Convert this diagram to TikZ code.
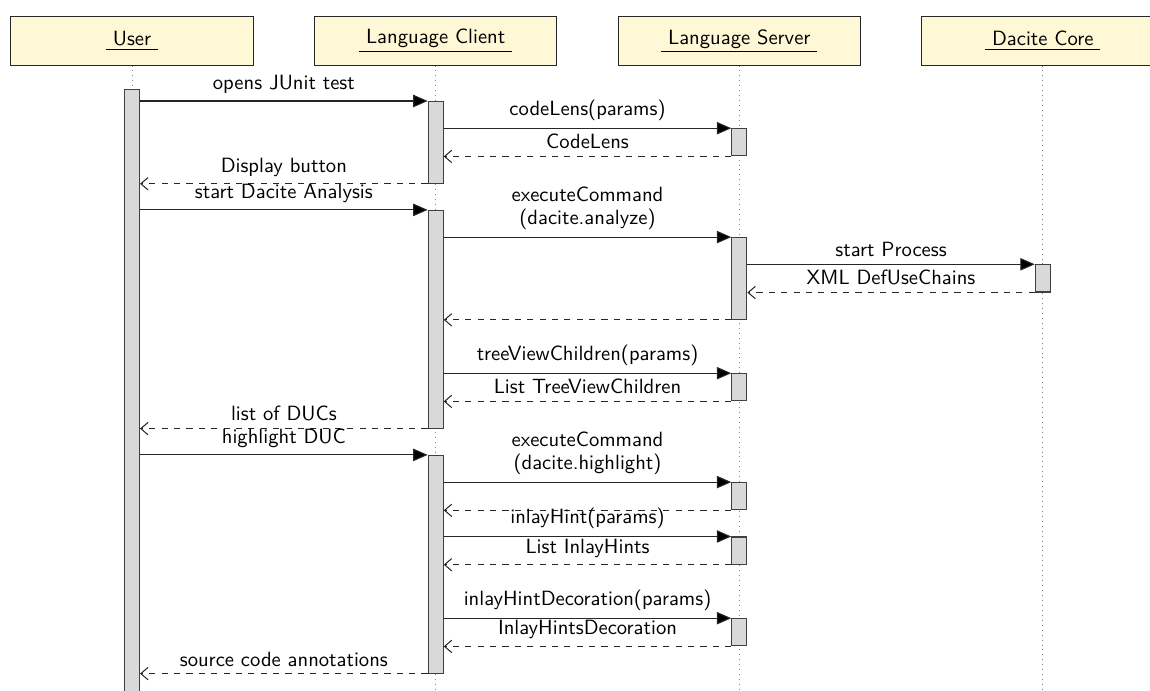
\documentclass[tikz,border=0pt]{standalone}
\usepackage[dvipsnames]{xcolor}
\usepackage{tikz}
\usetikzlibrary{arrows.meta}
\definecolor{headyellow}{RGB}{255,248,214}
\tikzset{
  head/.style={draw=black!85, fill=headyellow, line width=0.5pt,
    minimum width=117.4pt, minimum height=23.4pt},
  life/.style={gray, dotted},
  bar/.style={draw=black!75, fill=gray!30, anchor=north, inner sep=0pt, line width=0.5pt,
    minimum width=7.3pt, minimum height=#1*0.485pt},
  call/.style={black!85, line width=0.5pt, -{Triangle[length=7pt, width=6pt, fill=black]}},
  reply/.style={black!85, line width=0.5pt, dashed, -{Straight Barb[length=3.5pt, width=6pt]}},
  msg/.style={midway, above, text=black}
}

\begin{document}
\begin{tikzpicture}[x=0.485pt, y=-0.485pt, font=\sffamily]
  \useasboundingbox (0, 0) rectangle (1150, 691);
  \clip (0, 0) rectangle (1150, 691);

  % the four participants
  \node[head] (user) at (132, 40.9) {\underline{\ User\ }};
  \node[head] (client) at (435.7, 40.9) {\underline{\ Language Client\ }};
  \node[head] (server) at (739.3, 40.9) {\underline{\ Language Server\ }};
  \node[head] (core) at (1042.8, 40.9) {\underline{\ Dacite Core\ }};
  \coordinate (bottom) at (0, 700);
  \draw[life] (user.south) -- (user.south |- bottom);
  \draw[life] (client.south) -- (client.south |- bottom);
  \draw[life] (server.south) -- (server.south |- bottom);
  \draw[life] (core.south) -- (core.south |- bottom);

  % activations
  \node[bar=611] (u) at (132, 89) {};
  \node[bar=81.7] (lc1) at (435.7, 101) {};
  \node[bar=217.7] (lc2) at (435.7, 209.9) {};
  \node[bar=217.7] (lc3) at (435.7, 454.9) {};
  \node[bar=27.2] (ls1) at (739.3, 128.2) {};
  \node[bar=81.7] (ls2) at (739.3, 237.1) {};
  \node[bar=27.2] (ls3) at (739.3, 373.2) {};
  \node[bar=27.2] (ls4) at (739.3, 482.1) {};
  \node[bar=27.2] (ls5) at (739.3, 536.5) {};
  \node[bar=27.2] (ls6) at (739.3, 618.2) {};
  \node[bar=27.2] (dc1) at (1042.8, 264.3) {};

  % messages
  \draw[call] (u.east |- lc1.north) -- (lc1.north west) node[msg] {opens JUnit test};
  \draw[call] (lc1.east |- ls1.north) -- (ls1.north west) node[msg] {codeLens(params)};
  \draw[reply] (ls1.south west) -- (lc1.east |- ls1.south) node[msg] {CodeLens};
  \draw[reply] (lc1.south west) -- (u.east |- lc1.south) node[msg] {Display button};

  \draw[call] (u.east |- lc2.north) -- (lc2.north west) node[msg] {start Dacite Analysis};
  \draw[call] (lc2.east |- ls2.north) -- (ls2.north west)
    node[msg, align=center] {executeCommand\\[-1pt](dacite.analyze)};
  \draw[call] (ls2.east |- dc1.north) -- (dc1.north west) node[msg] {start Process};
  \draw[reply] (dc1.south west) -- (ls2.east |- dc1.south) node[msg] {XML DefUseChains};
  \draw[reply] (ls2.south west) -- (lc2.east |- ls2.south);
  \draw[call] (lc2.east |- ls3.north) -- (ls3.north west) node[msg] {treeViewChildren(params)};
  \draw[reply] (ls3.south west) -- (lc2.east |- ls3.south) node[msg] {List TreeViewChildren};
  \draw[reply] (lc2.south west) -- (u.east |- lc2.south) node[msg] {list of DUCs};

  \draw[call] (u.east |- lc3.north) -- (lc3.north west) node[msg] {highlight DUC};
  \draw[call] (lc3.east |- ls4.north) -- (ls4.north west)
    node[msg, align=center] {executeCommand\\[-1pt](dacite.highlight)};
  \draw[reply] (ls4.south west) -- (lc3.east |- ls4.south);
  \draw[call] (lc3.east |- ls5.north) -- (ls5.north west) node[msg] {inlayHint(params)};
  \draw[reply] (ls5.south west) -- (lc3.east |- ls5.south) node[msg] {List InlayHints};
  \draw[call] (lc3.east |- ls6.north) -- (ls6.north west) node[msg] {inlayHintDecoration(params)};
  \draw[reply] (ls6.south west) -- (lc3.east |- ls6.south) node[msg] {InlayHintsDecoration};
  \draw[reply] (lc3.south west) -- (u.east |- lc3.south) node[msg] {source code annotations};
\end{tikzpicture}
\end{document}
